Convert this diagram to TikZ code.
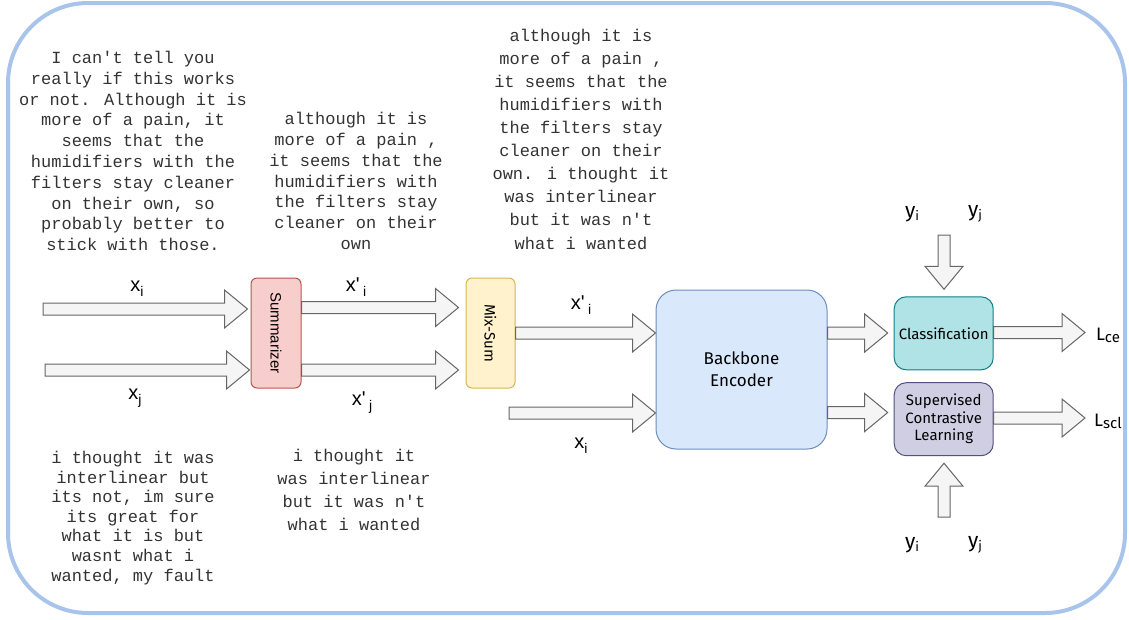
\documentclass[tikz,border=0pt]{standalone}
\usepackage{fontspec}
\setmainfont{Liberation Sans}
\newfontfamily\monof{Liberation Mono}
\newfontfamily\comicf{Fira Sans}
\usetikzlibrary{calc}
\definecolor{framec}{HTML}{A9C4EB}
\definecolor{arrfill}{HTML}{F5F5F5}
\definecolor{arrdraw}{HTML}{666666}
\definecolor{sumfill}{HTML}{F8CECC}\definecolor{sumdraw}{HTML}{B85450}
\definecolor{mixfill}{HTML}{FFF2CC}\definecolor{mixdraw}{HTML}{D6B656}
\definecolor{encfill}{HTML}{DAE8FC}\definecolor{encdraw}{HTML}{6C8EBF}
\definecolor{clsfill}{HTML}{B0E3E6}\definecolor{clsdraw}{HTML}{0E8088}
\definecolor{sclfill}{HTML}{D0CEE2}\definecolor{scldraw}{HTML}{56517E}
\definecolor{txt}{HTML}{333333}
\newcommand{\harr}[2]{\path[barrow] let \p1=(#1), \p2=(#2) in
  (\x1,\y1-6pt) -- (\x2-23pt,\y1-6pt) -- (\x2-23pt,\y1-19pt) -- (\x2,\y1)
  -- (\x2-23pt,\y1+19pt) -- (\x2-23pt,\y1+6pt) -- (\x1,\y1+6pt) -- cycle;}
\newcommand{\dnarr}[2]{\path[barrow] let \p1=(#1), \p2=(#2) in
  (\x1-6pt,\y1) -- (\x1-6pt,\y2+23pt) -- (\x1-19pt,\y2+23pt) -- (\x1,\y2)
  -- (\x1+19pt,\y2+23pt) -- (\x1+6pt,\y2+23pt) -- (\x1+6pt,\y1) -- cycle;}
\newcommand{\uparr}[2]{\path[barrow] let \p1=(#1), \p2=(#2) in
  (\x1-6pt,\y1) -- (\x1-6pt,\y2-23pt) -- (\x1-19pt,\y2-23pt) -- (\x1,\y2)
  -- (\x1+19pt,\y2-23pt) -- (\x1+6pt,\y2-23pt) -- (\x1+6pt,\y1) -- cycle;}
\newcommand{\sbx}[1]{\raisebox{-5pt}{\fontsize{14}{14}\selectfont #1}}
\newcommand{\sby}[1]{\raisebox{-3pt}{\fontsize{13}{13}\selectfont #1}}
\newcommand{\sbl}[1]{\raisebox{-2pt}{\fontsize{15}{15}\selectfont #1}}
\begin{document}
\begin{tikzpicture}[x=1pt,y=-1pt,
  barrow/.style={fill=arrfill,draw=arrdraw,line width=1pt,line join=miter},
  box/.style={line width=1pt,inner sep=0pt,align=center,text=black},
  mtext/.style={inner sep=0pt,align=center,text=txt},
  xlab/.style={inner sep=0pt,font=\fontsize{20}{20}\selectfont},
  ylab/.style={inner sep=0pt,font=\comicf\fontsize{21}{21}\selectfont},
  llab/.style={inner sep=0pt,font=\comicf\fontsize{18}{18}\selectfont}]
\useasboundingbox (0,0) rectangle (1129,619);
\draw[framec,line width=4pt,rounded corners=80pt] (8,3) rectangle (1125,613);

% texts
\node[mtext,font=\monof\fontsize{17}{20.8}\selectfont] (t1) at (133,151)
 {I can\textquotesingle t tell you\\really if this works\\or not. Although it is\\more of a pain, it\\seems that the\\humidifiers with the\\filters stay cleaner\\on their own, so\\probably better to\\stick with those.};
\node[mtext,font=\monof\fontsize{17}{20.8}\selectfont] (t2) at (356,181)
 {although it is\\more of a pain ,\\it seems that the\\humidifiers with\\the filters stay\\cleaner on their\\own};
\node[mtext,font=\monof\fontsize{17}{23.1}\selectfont] (t3) at (581,139)
 {although it is\\more of a pain ,\\it seems that the\\humidifiers with\\the filters stay\\cleaner on their\\own. i thought it\\was interlinear\\but it was n\textquotesingle t\\what i wanted};
\node[mtext,font=\monof\fontsize{17}{19.55}\selectfont] (t4) at (133,518)
 {i thought it was\\interlinear but\\its not, im sure\\its great for\\what it is but\\wasnt what i\\wanted, my fault};
\node[mtext,font=\monof\fontsize{17}{23}\selectfont] (t5) at (354,489.5)
 {i thought it\\was interlinear\\but it was n\textquotesingle t\\what i wanted};

% boxes
\node[box,fill=sumfill,draw=sumdraw,rounded corners=6pt,minimum width=50pt,minimum height=110pt,font=\fontsize{15}{15}\selectfont] (sum) at (276,333) {\rotatebox{-90}{Summarizer}};
\node[box,fill=mixfill,draw=mixdraw,rounded corners=6pt,minimum width=49pt,minimum height=110pt,font=\comicf\fontsize{15}{15}\selectfont] (mix) at (490.5,333) {\rotatebox{-90}{Mix-Sum}};
\node[box,fill=encfill,draw=encdraw,rounded corners=20pt,minimum width=171pt,minimum height=159pt,font=\comicf\fontsize{17}{21.7}\selectfont] (enc) at (741.5,369.5) {Backbone\\Encoder};
\node[box,fill=clsfill,draw=clsdraw,rounded corners=12pt,minimum width=99pt,minimum height=73pt,font=\comicf\fontsize{15}{17.5}\selectfont] (cls) at (943.7,333.3) {Classification};
\node[box,fill=sclfill,draw=scldraw,rounded corners=12pt,minimum width=99pt,minimum height=73pt,font=\comicf\fontsize{15}{17.5}\selectfont] (scl) at (943.7,419.2) {Supervised\\Contrastive\\Learning};

% arrow end points
\coordinate (a1s) at (43,309);
\coordinate (a1e) at ($(sum.west |- a1s)+(-3,0)$);
\coordinate (a2s) at (45,370);
\coordinate (a2e) at ($(sum.west |- a2s)+(-1,0)$);
\coordinate (a3s) at (sum.east |- 0,307.5);
\coordinate (a3e) at ($(mix.west |- a3s)+(-7,0)$);
\coordinate (a4s) at (sum.east |- 0,370);
\coordinate (a4e) at ($(mix.west |- a4s)+(-7,0)$);
\coordinate (a5s) at (mix.east |- 0,333);
\coordinate (a5e) at (enc.west |- a5s);
\coordinate (a6s) at (509,413);
\coordinate (a6e) at (enc.west |- a6s);
\coordinate (a7s) at (enc.east |- 0,333);
\coordinate (a7e) at ($(cls.west |- a7s)+(-6,0)$);
\coordinate (a8s) at (enc.east |- 0,412.5);
\coordinate (a8e) at ($(scl.west |- a8s)+(-6,0)$);
\coordinate (a9s) at (cls.east |- 0,332.5);
\coordinate (a9e) at (1085,332.5);
\coordinate (a10s) at (scl.east |- 0,418);
\coordinate (a10e) at (1085,418);
\coordinate (a11s) at (944,235);
\coordinate (a11e) at ($(cls.north)+(0,-7)$);
\coordinate (a12s) at (944,517);
\coordinate (a12e) at ($(scl.south)+(0,7)$);

\harr{a1s}{a1e}
\harr{a2s}{a2e}
\harr{a3s}{a3e}
\harr{a4s}{a4e}
\harr{a5s}{a5e}
\harr{a6s}{a6e}
\harr{a7s}{a7e}
\harr{a8s}{a8e}
\harr{a9s}{a9e}
\harr{a10s}{a10e}
\dnarr{a11s}{a11e}
\uparr{a12s}{a12e}

% labels
\node[xlab] (lx1) at (137,289) {x\sbx{i}};
\node[xlab] (lx2) at (135,398) {x\sbx{j}};
\node[xlab] (lx3) at (356,287) {x\textquotesingle\,\sbx{i}};
\node[xlab] (lx4) at (362,403) {x\textquotesingle\,\sbx{j}};
\node[xlab] (lx5) at (581,305) {x\textquotesingle\,\sbx{i}};
\node[xlab] (lx6) at (581,446) {x\sbx{i}};
\node[ylab] (ly1) at (912,214) {y\sby{i}};
\node[ylab] (ly2) at (975,214) {y\sby{j}};
\node[ylab] (ly3) at (912,545) {y\sby{i}};
\node[ylab] (ly4) at (975,545) {y\sby{j}};
\node[llab] (lce) at (1108,335) {L\sbl{ce}};
\node[llab] (lscl) at (1108,421) {L\sbl{scl}};
\end{tikzpicture}
\end{document}
